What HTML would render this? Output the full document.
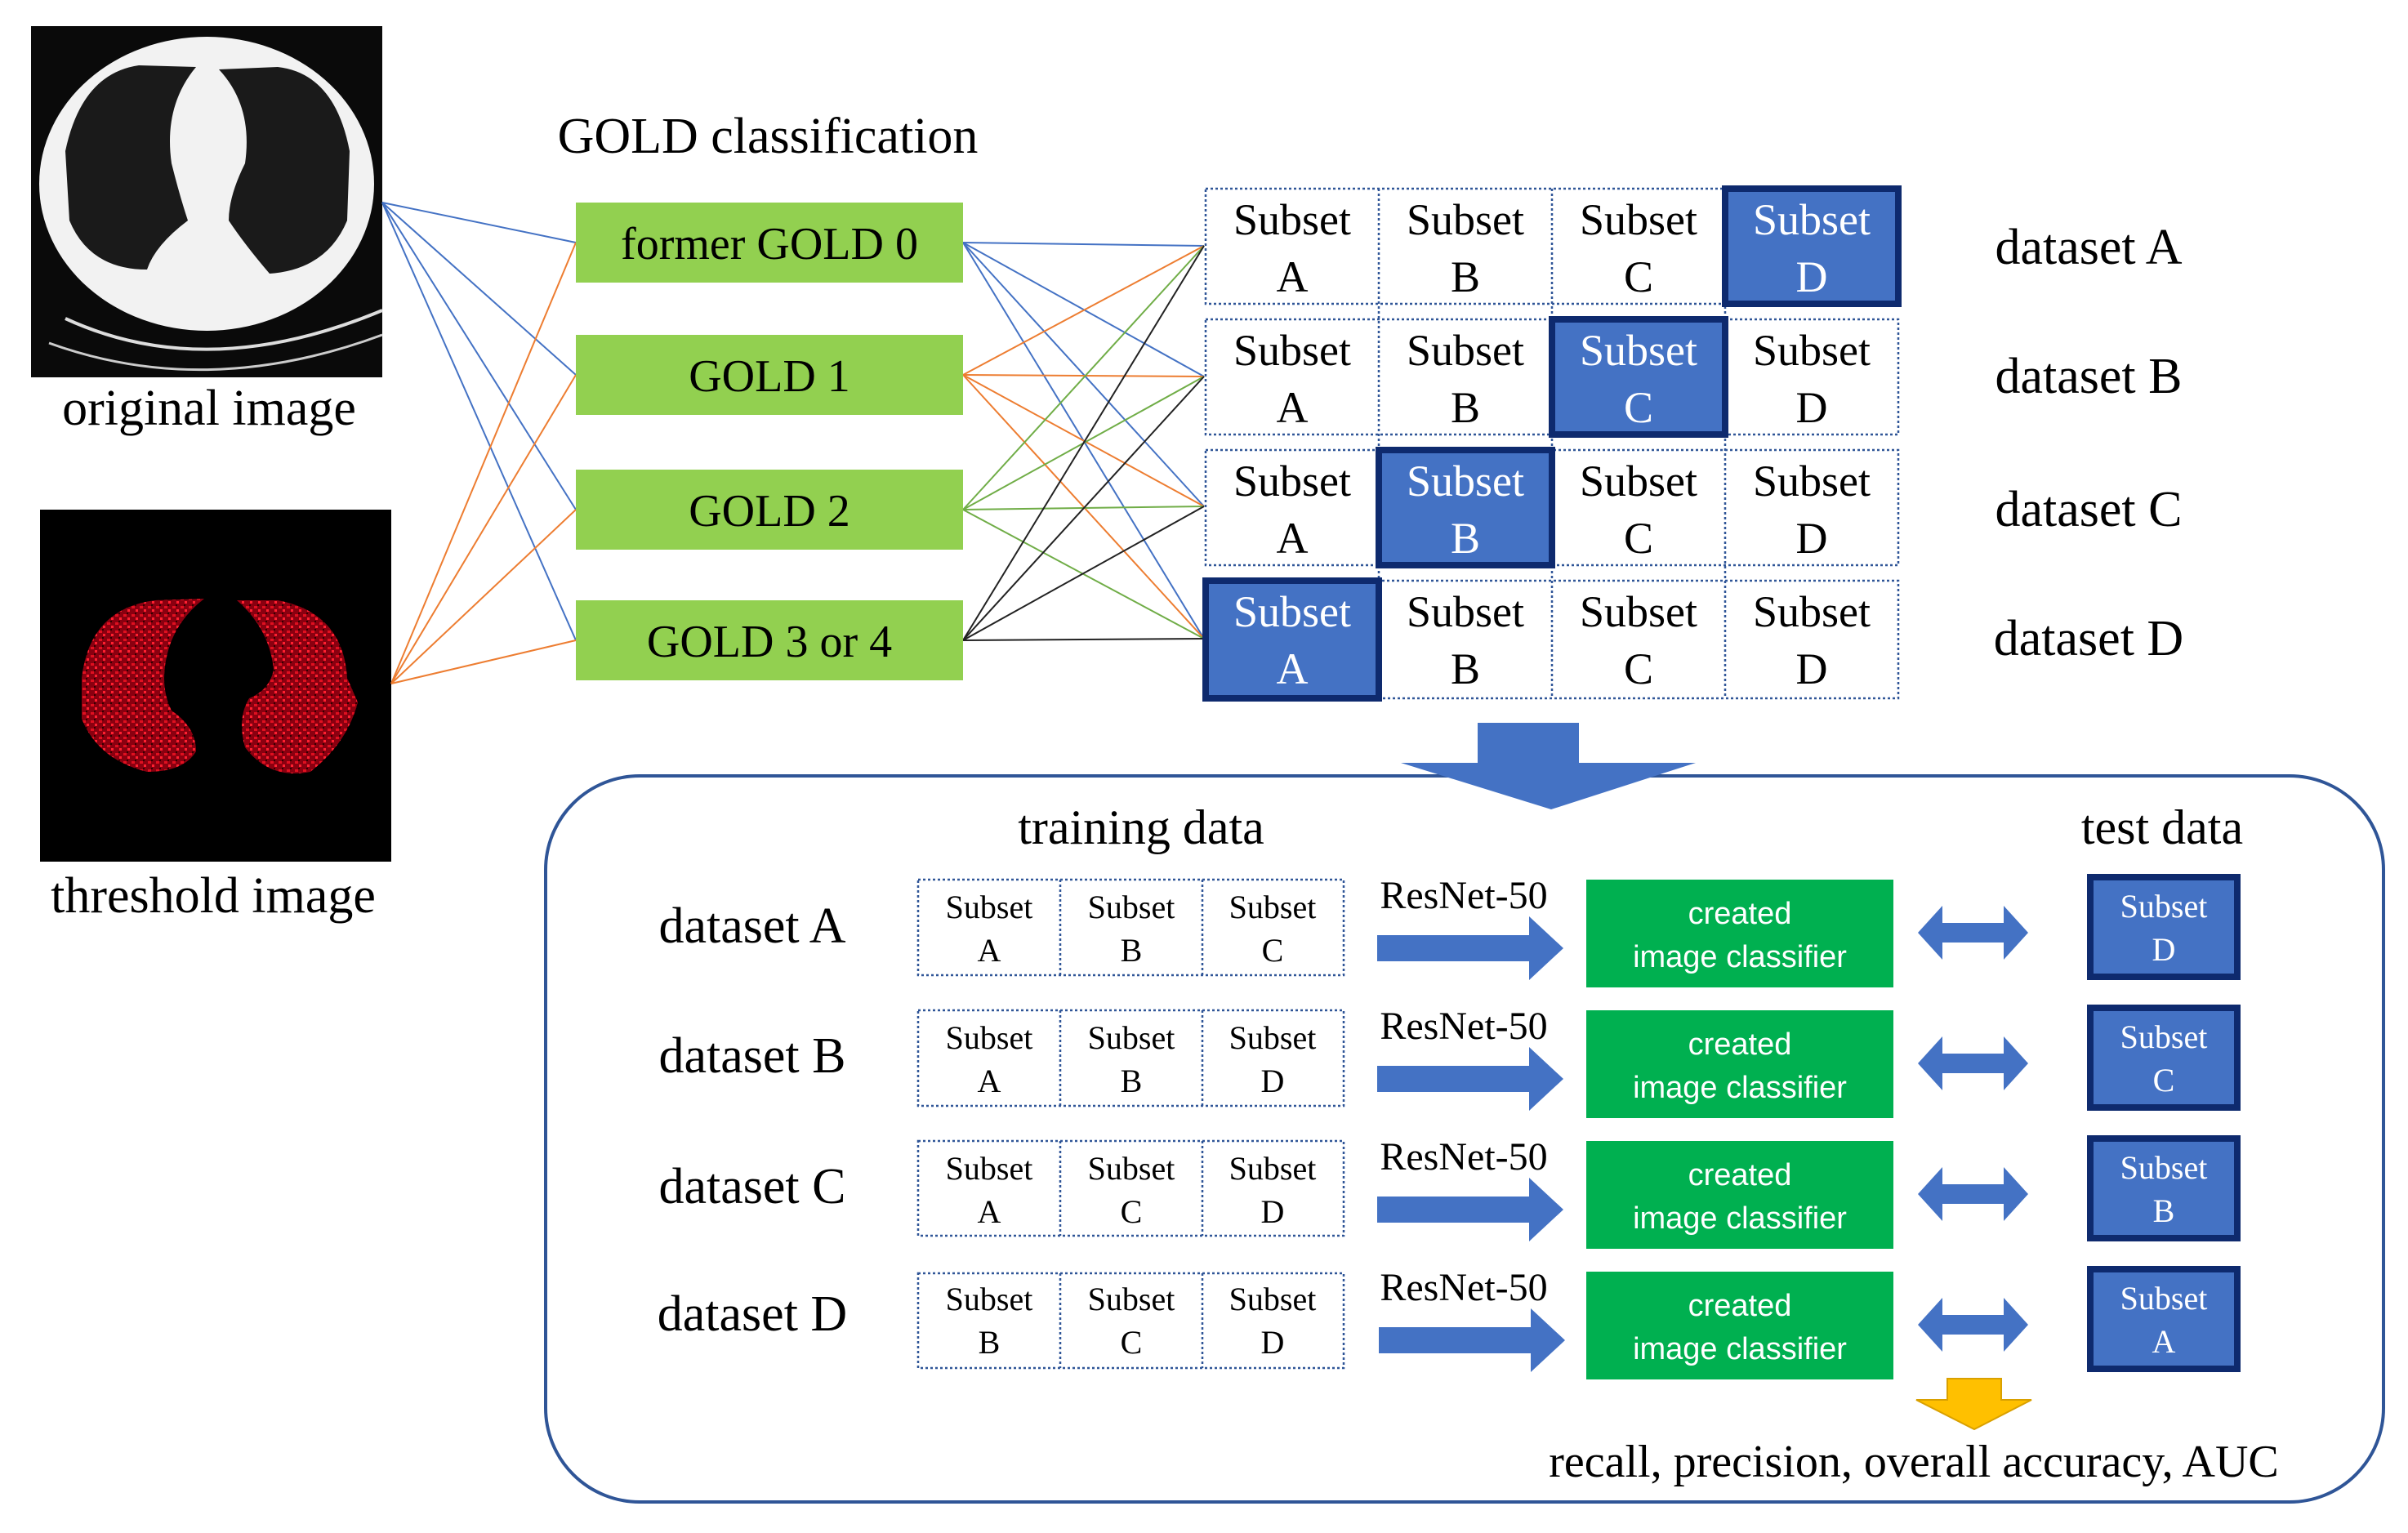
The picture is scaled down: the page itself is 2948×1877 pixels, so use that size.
<!DOCTYPE html>
<html><head><meta charset="utf-8"><style>html,body{margin:0;padding:0;background:#fff}svg{display:block}</style></head>
<body>
<svg width="2948" height="1877" viewBox="0 0 2948 1877" xmlns="http://www.w3.org/2000/svg" font-family="'Liberation Serif', serif">
<defs>
<pattern id="dots" width="10" height="10" patternUnits="userSpaceOnUse">
<rect width="10" height="10" fill="#8a0010"/><rect x="1" y="2" width="4" height="3" fill="#e01020"/><rect x="6" y="6" width="3" height="3" fill="#ff2030"/><rect x="5" y="0" width="2" height="2" fill="#300"/>
</pattern>
</defs>
<rect x="38" y="32" width="430" height="430" fill="#0a0a0a"/>
<ellipse cx="253" cy="225" rx="205" ry="180" fill="#f2f2f2"/>
<path d="M80 390 Q253 470 468 380" stroke="#ddd" stroke-width="4" fill="none"/>
<path d="M60 420 Q253 490 468 410" stroke="#ccc" stroke-width="3" fill="none"/>
<path d="M80 185 Q100 90 170 80 L240 82 Q200 130 210 200 Q220 240 230 270 Q190 300 180 330 Q110 330 85 270 Z" fill="#1a1a1a"/>
<path d="M428 185 Q410 90 340 82 L268 85 Q310 130 300 200 Q280 240 280 270 Q300 300 330 335 Q400 330 425 270 Z" fill="#1a1a1a"/>
<text x="256" y="520" font-size="62" text-anchor="middle">original image</text>
<rect x="49" y="624" width="430" height="431" fill="#000"/>
<path d="M100 830 Q110 745 190 735 L250 733 Q215 760 205 800 Q195 840 210 870 Q240 890 240 920 Q225 945 180 945 Q120 930 100 880 Z" fill="url(#dots)"/>
<path d="M425 830 Q420 750 340 735 L290 735 Q330 770 335 820 Q330 845 305 855 Q290 880 300 915 Q330 955 380 945 Q425 910 438 860 Z" fill="url(#dots)"/>
<text x="261" y="1117" font-size="62" text-anchor="middle">threshold image</text>
<text x="940" y="187" font-size="62" text-anchor="middle">GOLD classification</text>
<g stroke-width="2" fill="none">
<g stroke="#4472c4">
<line x1="468" y1="248" x2="705" y2="297"/><line x1="468" y1="248" x2="705" y2="459"/><line x1="468" y1="248" x2="705" y2="624"/><line x1="468" y1="248" x2="705" y2="784"/>
</g>
<g stroke="#ed7d31">
<line x1="479" y1="837" x2="705" y2="297"/><line x1="479" y1="837" x2="705" y2="459"/><line x1="479" y1="837" x2="705" y2="624"/><line x1="479" y1="837" x2="705" y2="784"/>
</g>
<g stroke="#4472c4"><line x1="1179" y1="297" x2="1474" y2="301"/><line x1="1179" y1="297" x2="1474" y2="461"/><line x1="1179" y1="297" x2="1474" y2="620"/><line x1="1179" y1="297" x2="1474" y2="782"/></g>
<g stroke="#ed7d31"><line x1="1179" y1="459" x2="1474" y2="301"/><line x1="1179" y1="459" x2="1474" y2="461"/><line x1="1179" y1="459" x2="1474" y2="620"/><line x1="1179" y1="459" x2="1474" y2="782"/></g>
<g stroke="#70ad47"><line x1="1179" y1="624" x2="1474" y2="301"/><line x1="1179" y1="624" x2="1474" y2="461"/><line x1="1179" y1="624" x2="1474" y2="620"/><line x1="1179" y1="624" x2="1474" y2="782"/></g>
<g stroke="#222"><line x1="1179" y1="784" x2="1474" y2="301"/><line x1="1179" y1="784" x2="1474" y2="461"/><line x1="1179" y1="784" x2="1474" y2="620"/><line x1="1179" y1="784" x2="1474" y2="782"/></g>
</g>
<g fill="#92d050">
<rect x="705" y="248" width="474" height="98"/><rect x="705" y="410" width="474" height="98"/><rect x="705" y="575" width="474" height="98"/><rect x="705" y="735" width="474" height="98"/>
</g>
<g font-size="56" text-anchor="middle">
<text x="942" y="317">former GOLD 0</text><text x="942" y="479">GOLD 1</text><text x="942" y="644">GOLD 2</text><text x="942" y="804">GOLD 3 or 4</text>
</g>
<g font-size="54" text-anchor="middle">
<g stroke="#2f5597" stroke-width="2.5" stroke-dasharray="3,3" fill="none">
<rect x="1476" y="231" width="848" height="141"/><rect x="1476" y="391" width="848" height="141"/><rect x="1476" y="551" width="848" height="141"/><rect x="1476" y="711" width="848" height="144"/>
<line x1="1688" y1="231" x2="1688" y2="855"/><line x1="1900" y1="231" x2="1900" y2="855"/><line x1="2112" y1="231" x2="2112" y2="855"/>
</g>
<g fill="#4472c4" stroke="#0e2a6e" stroke-width="8">
<rect x="2112" y="231" width="212" height="141"/><rect x="1900" y="391" width="212" height="141"/><rect x="1688" y="551" width="212" height="141"/><rect x="1476" y="711" width="212" height="144"/>
</g>
<text x="1582" y="287">Subset</text><text x="1582" y="357">A</text>
<text x="1794" y="287">Subset</text><text x="1794" y="357">B</text>
<text x="2006" y="287">Subset</text><text x="2006" y="357">C</text>
<text x="2218" y="287" fill="#fff">Subset</text><text x="2218" y="357" fill="#fff">D</text>
<text x="1582" y="447">Subset</text><text x="1582" y="517">A</text>
<text x="1794" y="447">Subset</text><text x="1794" y="517">B</text>
<text x="2006" y="447" fill="#fff">Subset</text><text x="2006" y="517" fill="#fff">C</text>
<text x="2218" y="447">Subset</text><text x="2218" y="517">D</text>
<text x="1582" y="607">Subset</text><text x="1582" y="677">A</text>
<text x="1794" y="607" fill="#fff">Subset</text><text x="1794" y="677" fill="#fff">B</text>
<text x="2006" y="607">Subset</text><text x="2006" y="677">C</text>
<text x="2218" y="607">Subset</text><text x="2218" y="677">D</text>
<text x="1582" y="767" fill="#fff">Subset</text><text x="1582" y="837" fill="#fff">A</text>
<text x="1794" y="767">Subset</text><text x="1794" y="837">B</text>
<text x="2006" y="767">Subset</text><text x="2006" y="837">C</text>
<text x="2218" y="767">Subset</text><text x="2218" y="837">D</text>
</g>
<g font-size="62" text-anchor="middle">
<text x="2557" y="323">dataset A</text><text x="2557" y="481">dataset B</text><text x="2557" y="644">dataset C</text><text x="2557" y="802">dataset D</text>
</g>
<rect x="668" y="950" width="2250" height="889" rx="115" ry="115" fill="none" stroke="#2f5597" stroke-width="4"/>
<polygon points="1809,885 1933,885 1933,934 2076,934 1899,991 1715,934 1809,934" fill="#4472c4"/>
<text x="1397" y="1033" font-size="60" text-anchor="middle">training data</text>
<text x="2647" y="1033" font-size="60" text-anchor="middle">test data</text>
<g font-size="62" text-anchor="middle">
<text x="921" y="1154">dataset A</text><text x="921" y="1313">dataset B</text><text x="921" y="1473">dataset C</text><text x="921" y="1629">dataset D</text>
</g>
<g stroke="#2f5597" stroke-width="2.5" stroke-dasharray="3,3" fill="none">
<rect x="1124" y="1077" width="521" height="117"/><rect x="1124" y="1237" width="521" height="117"/><rect x="1124" y="1397" width="521" height="116"/><rect x="1124" y="1559" width="521" height="116"/>
<line x1="1298" y1="1077" x2="1298" y2="1194"/><line x1="1472" y1="1077" x2="1472" y2="1194"/>
<line x1="1298" y1="1237" x2="1298" y2="1354"/><line x1="1472" y1="1237" x2="1472" y2="1354"/>
<line x1="1298" y1="1397" x2="1298" y2="1513"/><line x1="1472" y1="1397" x2="1472" y2="1513"/>
<line x1="1298" y1="1559" x2="1298" y2="1675"/><line x1="1472" y1="1559" x2="1472" y2="1675"/>
</g>
<g font-size="40" text-anchor="middle">
<text x="1211" y="1124">Subset</text><text x="1211" y="1177">A</text><text x="1385" y="1124">Subset</text><text x="1385" y="1177">B</text><text x="1558" y="1124">Subset</text><text x="1558" y="1177">C</text>
<text x="1211" y="1284">Subset</text><text x="1211" y="1337">A</text><text x="1385" y="1284">Subset</text><text x="1385" y="1337">B</text><text x="1558" y="1284">Subset</text><text x="1558" y="1337">D</text>
<text x="1211" y="1444">Subset</text><text x="1211" y="1497">A</text><text x="1385" y="1444">Subset</text><text x="1385" y="1497">C</text><text x="1558" y="1444">Subset</text><text x="1558" y="1497">D</text>
<text x="1211" y="1604">Subset</text><text x="1211" y="1657">B</text><text x="1385" y="1604">Subset</text><text x="1385" y="1657">C</text><text x="1558" y="1604">Subset</text><text x="1558" y="1657">D</text>
</g>
<g font-size="48" text-anchor="middle">
<text x="1792" y="1112">ResNet-50</text><text x="1792" y="1272">ResNet-50</text><text x="1792" y="1432">ResNet-50</text><text x="1792" y="1592">ResNet-50</text>
</g>
<g fill="#4472c4">
<polygon points="1686,1145 1872,1145 1872,1122 1914,1161 1872,1200 1872,1177 1686,1177"/>
<polygon points="1686,1305 1872,1305 1872,1282 1914,1321 1872,1360 1872,1337 1686,1337"/>
<polygon points="1686,1465 1872,1465 1872,1442 1914,1481 1872,1520 1872,1497 1686,1497"/>
<polygon points="1688,1625 1874,1625 1874,1602 1916,1641 1874,1680 1874,1657 1688,1657"/>
</g>
<g fill="#00b050">
<rect x="1942" y="1077" width="376" height="132"/><rect x="1942" y="1237" width="376" height="132"/><rect x="1942" y="1397" width="376" height="132"/><rect x="1942" y="1557" width="376" height="132"/>
</g>
<g font-family="'Liberation Sans', sans-serif" font-size="38" fill="#fff" text-anchor="middle">
<text x="2130" y="1131">created</text><text x="2130" y="1184">image classifier</text>
<text x="2130" y="1291">created</text><text x="2130" y="1344">image classifier</text>
<text x="2130" y="1451">created</text><text x="2130" y="1504">image classifier</text>
<text x="2130" y="1611">created</text><text x="2130" y="1664">image classifier</text>
</g>
<g fill="#4472c4">
<polygon points="2348,1142 2378,1109 2378,1130 2453,1130 2453,1109 2483,1142 2453,1175 2453,1154 2378,1154 2378,1175"/>
<polygon points="2348,1302 2378,1269 2378,1290 2453,1290 2453,1269 2483,1302 2453,1335 2453,1314 2378,1314 2378,1335"/>
<polygon points="2348,1462 2378,1429 2378,1450 2453,1450 2453,1429 2483,1462 2453,1495 2453,1474 2378,1474 2378,1495"/>
<polygon points="2348,1622 2378,1589 2378,1610 2453,1610 2453,1589 2483,1622 2453,1655 2453,1634 2378,1634 2378,1655"/>
</g>
<g fill="#4472c4" stroke="#0e2a6e" stroke-width="8">
<rect x="2559" y="1074" width="180" height="122"/><rect x="2559" y="1234" width="180" height="122"/><rect x="2559" y="1394" width="180" height="122"/><rect x="2559" y="1554" width="180" height="122"/>
</g>
<g font-size="40" fill="#fff" text-anchor="middle">
<text x="2649" y="1123">Subset</text><text x="2649" y="1176">D</text>
<text x="2649" y="1283">Subset</text><text x="2649" y="1336">C</text>
<text x="2649" y="1443">Subset</text><text x="2649" y="1496">B</text>
<text x="2649" y="1603">Subset</text><text x="2649" y="1656">A</text>
</g>
<polygon points="2384,1688 2450,1688 2450,1714 2487,1714 2417,1750 2346,1714 2384,1714" fill="#ffc000" stroke="#d9a000" stroke-width="2"/>
<text x="2343" y="1808" font-size="56" text-anchor="middle">recall, precision, overall accuracy, AUC</text>
</svg>
</body></html>
